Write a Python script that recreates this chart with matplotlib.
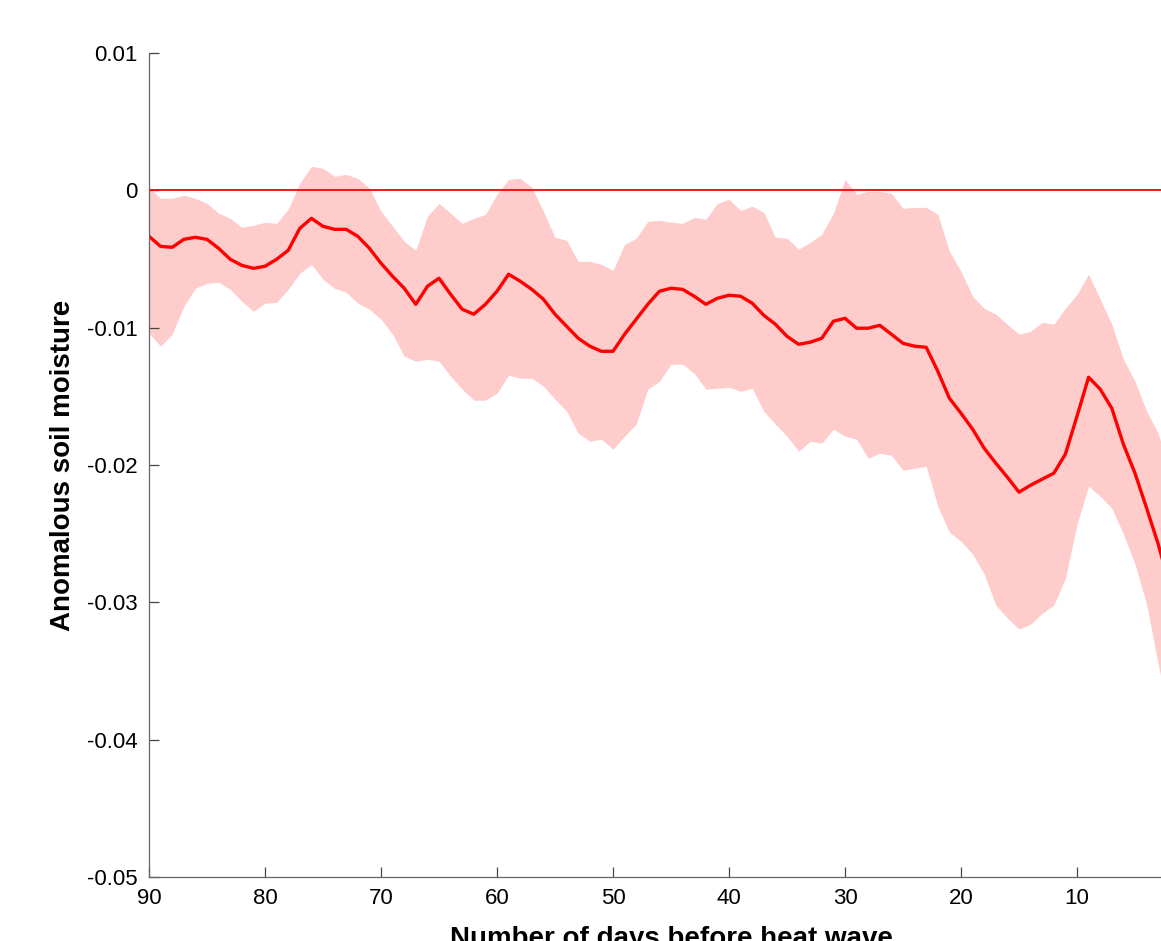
#! python3

# Soil moisture anomaly before heat waves

import numpy as np
import matplotlib
matplotlib.use('Agg')
import matplotlib.pyplot as plt

plt.rcParams['font.family'] = ['Liberation Sans', 'DejaVu Sans']

# DATA (day 90 -> day 2)
days = np.arange(90, 1, -1)

sm_mean = [
	-0.00335, -0.00408, -0.00415, -0.00357, -0.00342, -0.00357, -0.00422, -0.00502, -0.00546, -0.00568,
	-0.00553, -0.00502, -0.00437, -0.00277, -0.00204, -0.00262, -0.00284, -0.00284, -0.00335, -0.00422,
	-0.00531, -0.00626, -0.00713, -0.00830, -0.00699, -0.00640, -0.00757, -0.00866, -0.00902, -0.00830,
	-0.00735, -0.00611, -0.00662, -0.00721, -0.00793, -0.00902, -0.00990, -0.01077, -0.01135, -0.01172,
	-0.01172, -0.01048, -0.00939, -0.00830, -0.00735, -0.00713, -0.00721, -0.00771, -0.00830, -0.00786,
	-0.00764, -0.00771, -0.00822, -0.00910, -0.00975, -0.01063, -0.01121, -0.01106, -0.01077, -0.00953,
	-0.00932, -0.01004, -0.01004, -0.00983, -0.01048, -0.01114, -0.01135, -0.01143, -0.01317, -0.01514,
	-0.01623, -0.01739, -0.01878, -0.01987, -0.02089, -0.02198, -0.02147, -0.02103, -0.02060, -0.01921,
	-0.01645, -0.01361, -0.01448, -0.01587, -0.01849, -0.02060, -0.02314, -0.02576, -0.02882]

sm_upper = [
	0.00022, -0.00058, -0.00058, -0.00036, -0.00058, -0.00095, -0.00167, -0.00204, -0.00269, -0.00255,
	-0.00233, -0.00240, -0.00138, 0.00051, 0.00175, 0.00160, 0.00102, 0.00116, 0.00087, 0.00015,
	-0.00153, -0.00262, -0.00371, -0.00437, -0.00189, -0.00095, -0.00167, -0.00240, -0.00204, -0.00175,
	-0.00029, 0.00080, 0.00087, 0.00022, -0.00153, -0.00342, -0.00364, -0.00517, -0.00517, -0.00539,
	-0.00582, -0.00393, -0.00349, -0.00226, -0.00218, -0.00233, -0.00240, -0.00197, -0.00211, -0.00095,
	-0.00066, -0.00146, -0.00116, -0.00160, -0.00342, -0.00349, -0.00429, -0.00378, -0.00320, -0.00167,
	0.00080, -0.00029, -0.00007, -0.00007, -0.00022, -0.00131, -0.00124, -0.00124, -0.00175, -0.00444,
	-0.00590, -0.00771, -0.00859, -0.00902, -0.00975, -0.01048, -0.01026, -0.00961, -0.00975, -0.00859,
	-0.00757, -0.00611, -0.00793, -0.00975, -0.01230, -0.01390, -0.01608, -0.01769, -0.02045]

sm_lower = [
	-0.01041, -0.01135, -0.01048, -0.00844, -0.00713, -0.00677, -0.00670, -0.00721, -0.00808, -0.00881,
	-0.00822, -0.00815, -0.00721, -0.00604, -0.00539, -0.00648, -0.00713, -0.00742, -0.00822, -0.00866,
	-0.00939, -0.01048, -0.01208, -0.01245, -0.01230, -0.01245, -0.01354, -0.01448, -0.01528, -0.01528,
	-0.01477, -0.01346, -0.01368, -0.01368, -0.01426, -0.01521, -0.01608, -0.01769, -0.01827, -0.01812,
	-0.01885, -0.01790, -0.01703, -0.01448, -0.01390, -0.01266, -0.01266, -0.01332, -0.01448, -0.01441,
	-0.01434, -0.01463, -0.01441, -0.01608, -0.01703, -0.01790, -0.01900, -0.01827, -0.01841, -0.01739,
	-0.01790, -0.01812, -0.01951, -0.01914, -0.01929, -0.02038, -0.02023, -0.02009, -0.02300, -0.02489,
	-0.02555, -0.02649, -0.02795, -0.03020, -0.03115, -0.03195, -0.03159, -0.03079, -0.03020, -0.02824,
	-0.02431, -0.02154, -0.02227, -0.02314, -0.02504, -0.02722, -0.03013, -0.03450, -0.03865]

x_ticks = [90, 80, 70, 60, 50, 40, 30, 20, 10]
y_ticks = [-0.05, -0.04, -0.03, -0.02, -0.01, 0, 0.01]
y_tick_labels = ['-0.05', '-0.04', '-0.03', '-0.02', '-0.01', '0', '0.01']


def main():
	fig = plt.figure(figsize=(11.61, 9.41), dpi=100)
	# axes runs past the right edge of the figure (cropped plot)
	ax = fig.add_axes([149 / 1161, 64 / 941, 1044 / 1161, 824 / 941])

	ax.fill_between(days, sm_lower, sm_upper, color='#ffcccc', linewidth=0)
	ax.axhline(0, color='red', linewidth=1.3)
	ax.plot(days, sm_mean, color='red', linewidth=2.4)

	ax.set_xlim(90, 0)
	ax.set_ylim(-0.05, 0.01)
	ax.set_xticks(x_ticks)
	ax.set_yticks(y_ticks)
	ax.set_yticklabels(y_tick_labels)

	# MATLAB-like box off, inward ticks
	ax.spines['top'].set_visible(False)
	ax.spines['right'].set_visible(False)
	for s in ['left', 'bottom']:
		ax.spines[s].set_color('#666666')
		ax.spines[s].set_linewidth(0.9)
	ax.tick_params(direction='in', length=7, width=0.9, color='#444444',
		labelsize=16, pad=8)

	ax.set_ylabel('Anomalous soil moisture', fontsize=20, fontweight='bold', labelpad=8)
	ax.set_xlabel('Number of days before heat wave', fontsize=20, fontweight='bold', labelpad=12)

	fig.savefig('out.png', dpi=100)


if __name__ == '__main__':
	main()
